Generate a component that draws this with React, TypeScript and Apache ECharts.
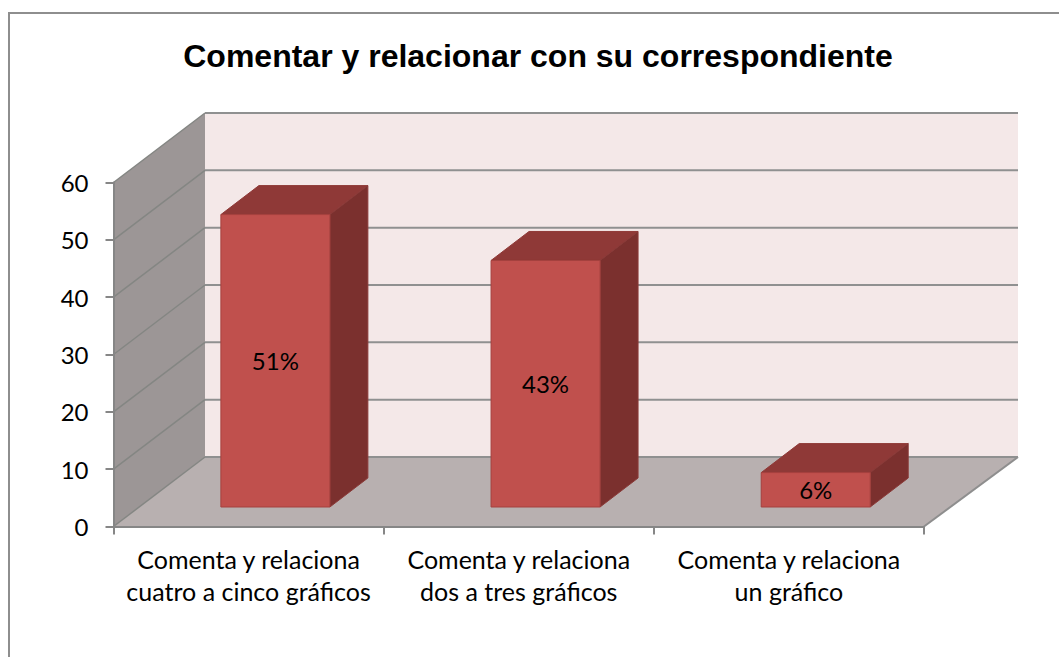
import React, { useEffect, useRef } from "react";
import * as echarts from "echarts";

const titleText = "Comentar y relacionar con su correspondiente";
const categories = ["Comenta y relaciona\ncuatro a cinco gráficos", "Comenta y relaciona\ndos a tres gráficos", "Comenta y relaciona\nun gráfico"];
const values = [51, 43, 6];
const valueLabels = ["51%", "43%", "6%"];
const yTicks = [0, 10, 20, 30, 40, 50, 60];

const WALL_DX = 91.5, WALL_DX_R = 94, WALL_DY = 69.5;
const BAR_DX = 26.8, BAR_DY = 19.5, DEPTH_DX = 38, DEPTH_DY = 29, BAR_W = 109;
const FONT = "Lato, Carlito, sans-serif";

export default function App() {
  const ref = useRef<HTMLDivElement>(null);
  useEffect(() => {
    const chart = echarts.init(ref.current!, null, { renderer: "svg" });
    chart.setOption({
      animation: false,
      title: {
        text: titleText, left: 533, top: 35, textAlign: "center",
        textStyle: { fontFamily: "Liberation Sans", fontWeight: "bold", fontSize: 32, color: "#000" },
      },
      graphic: [{
        type: "rect", z: -1, silent: true,
        shape: { x: 9, y: 13, width: 1060, height: 660 },
        style: { fill: "#fff", stroke: "#8E8E8E", lineWidth: 2 },
      }],
      grid: { left: 113.5, top: 182.5, width: 810.5, height: 344 },
      xAxis: {
        type: "category", data: categories, boundaryGap: true,
        axisLine: { lineStyle: { color: "#868686", width: 2 } },
        axisTick: { show: true, length: 8, lineStyle: { color: "#868686", width: 2 } },
        axisLabel: { color: "#000", fontFamily: FONT, fontSize: 25, lineHeight: 31.5, margin: 17, interval: 0 },
        z: 5,
      },
      yAxis: {
        type: "value", min: 0, max: 60, interval: 10,
        splitLine: { show: false },
        axisLine: { show: true, lineStyle: { color: "#868686", width: 2 } },
        axisTick: { show: true, length: 8, lineStyle: { color: "#868686", width: 2 } },
        axisLabel: { color: "#000", fontFamily: FONT, fontSize: 24, margin: 25 },
        z: 5,
      },
      series: [
        {
          type: "custom", coordinateSystem: "cartesian2d", silent: true, z: 1,
          data: [[0, 0]],
          renderItem: (params: any) => {
            const { x, y, width: w, height: h } = params.coordSys;
            const b = y + h, r = x + w;
            return {
              type: "group",
              children: [
                { type: "polygon", shape: { points: [[x + WALL_DX, y - WALL_DY], [r + WALL_DX_R, y - WALL_DY], [r + WALL_DX_R, b - WALL_DY], [x + WALL_DX, b - WALL_DY]] }, style: { fill: "#F4E8E8" } },
                { type: "polygon", shape: { points: [[x, y], [x + WALL_DX, y - WALL_DY], [x + WALL_DX, b - WALL_DY], [x, b]] }, style: { fill: "#9C9696" } },
                { type: "polygon", shape: { points: [[x, b], [x + WALL_DX, b - WALL_DY], [r + WALL_DX_R, b - WALL_DY], [r, b]] }, style: { fill: "#B8B0B0" } },
                { type: "polyline", shape: { points: [[r, b], [r + WALL_DX_R, b - WALL_DY]] }, style: { fill: "none", stroke: "#8E8E8E", lineWidth: 2 } },
              ],
            };
          },
        },
        {
          type: "custom", coordinateSystem: "cartesian2d", silent: true, z: 2,
          data: yTicks.map((t) => [0, t]),
          renderItem: (params: any, api: any) => {
            const { x, width: w } = params.coordSys;
            const yy = api.coord([0, api.value(1)])[1];
            return {
              type: "group",
              children: [
                { type: "polyline", shape: { points: [[x, yy], [x + WALL_DX, yy - WALL_DY]] }, style: { fill: "none", stroke: "#848683", lineWidth: 1.5 } },
                { type: "polyline", shape: { points: [[x + WALL_DX, yy - WALL_DY], [x + w + WALL_DX_R, yy - WALL_DY]] }, style: { fill: "none", stroke: "#8F9090", lineWidth: 2 } },
              ],
            };
          },
        },
        {
          type: "custom", coordinateSystem: "cartesian2d", silent: true, z: 3,
          encode: { x: 0, y: 1 },
          data: values.map((v, i) => [i, v]),
          renderItem: (params: any, api: any) => {
            const i = api.value(0);
            const [cx, b0] = api.coord([i, 0]);
            const t0 = api.coord([i, api.value(1)])[1];
            const l = cx + BAR_DX - BAR_W / 2, r = l + BAR_W, b = b0 - BAR_DY, t = t0 - BAR_DY;
            const edge = { stroke: "#A5413E", lineWidth: 1 };
            return {
              type: "group",
              children: [
                { type: "polygon", shape: { points: [[l, t], [l + DEPTH_DX, t - DEPTH_DY], [r + DEPTH_DX, t - DEPTH_DY], [r, t]] }, style: { fill: "#8F3937", stroke: "#8F3937", lineWidth: 1 } },
                { type: "polygon", shape: { points: [[r, t], [r + DEPTH_DX, t - DEPTH_DY], [r + DEPTH_DX, b - DEPTH_DY], [r, b]] }, style: { fill: "#7B302E", stroke: "#8A3A38", lineWidth: 1 } },
                { type: "rect", shape: { x: l, y: t, width: BAR_W, height: b - t }, style: { fill: "#C0504D", ...edge } },
                {
                  type: "text",
                  style: { x: (l + r) / 2, y: (t + b) / 2, text: valueLabels[i], align: "center", verticalAlign: "middle", fill: "#000", fontFamily: FONT, fontSize: 24 },
                },
              ],
            };
          },
        },
      ],
    });
    return () => chart.dispose();
  }, []);
  return <div ref={ref} style={{ position: "absolute", left: 0, top: 0, width: 1059, height: 657 }} />;
}
